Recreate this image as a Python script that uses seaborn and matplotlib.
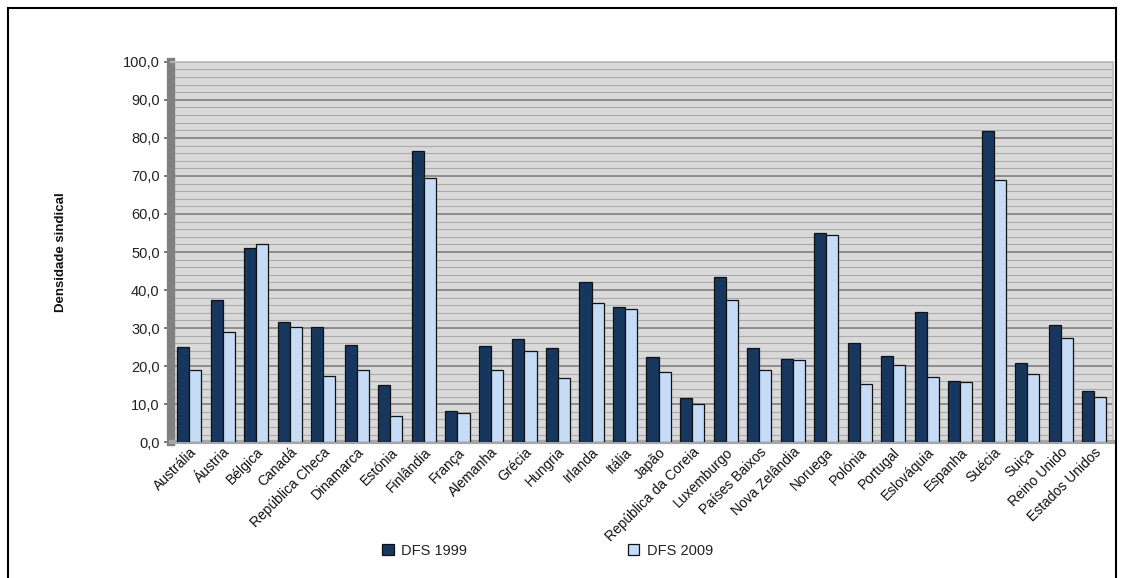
import matplotlib
matplotlib.use("Agg")
import matplotlib.pyplot as plt
import matplotlib.ticker as mticker
from matplotlib.patches import Rectangle
import seaborn as sns
import pandas as pd

countries = ["Austrália", "Áustria", "Bélgica", "Canadá", "República Checa", "Dinamarca",
             "Estónia", "Finlândia", "França", "Alemanha", "Grécia", "Hungria", "Irlanda",
             "Itália", "Japão", "República da Coreia", "Luxemburgo", "Países Baixos",
             "Nova Zelândia", "Noruega", "Polónia", "Portugal", "Eslováquia", "Espanha",
             "Suécia", "Suiça", "Reino Unido", "Estados Unidos"]
dfs_1999 = [25.0, 37.4, 51.0, 31.6, 30.2, 25.5, 15.0, 76.5, 8.3, 25.4, 27.0, 24.8, 42.2,
            35.5, 22.3, 11.7, 43.5, 24.8, 21.8, 55.1, 26.0, 22.6, 34.3, 16.1, 81.7, 20.9,
            30.7, 13.4]
dfs_2009 = [19.0, 28.9, 52.0, 30.3, 17.5, 18.9, 6.8, 69.5, 7.7, 19.0, 24.1, 16.9, 36.6,
            34.9, 18.5, 10.0, 37.4, 19.1, 21.6, 54.6, 15.2, 20.2, 17.2, 15.9, 69.0, 17.8,
            27.5, 11.8]
series = ["DFS 1999", "DFS 2009"]
yticks = [0, 10, 20, 30, 40, 50, 60, 70, 80, 90, 100]

df = pd.DataFrame({
    "País": countries * 2,
    "Valor": dfs_1999 + dfs_2009,
    "Série": [series[0]] * len(countries) + [series[1]] * len(countries),
})

sns.set_theme(style="white")
plt.rcParams["font.family"] = ["Liberation Sans", "DejaVu Sans"]

fig = plt.figure(figsize=(11.24, 5.78), dpi=100)
ax = fig.add_axes([0.152, 0.235, 0.838, 0.658])
ax.set_facecolor("#D9D9D9")

palette = {"DFS 1999": "#17375E", "DFS 2009": "#C6DBF5"}
sns.barplot(data=df, x="País", y="Valor", hue="Série", palette=palette, ax=ax,
            width=0.72, edgecolor="#111111", linewidth=0.9, saturation=1, zorder=3,
            legend=True)

ax.set_ylim(0, 100)
ax.set_xlim(-0.55, len(countries) - 0.45)
ax.set_yticks(yticks)
ax.yaxis.set_major_formatter(mticker.FuncFormatter(lambda v, p: f"{v:.1f}".replace(".", ",")))
ax.yaxis.set_minor_locator(mticker.MultipleLocator(2))
ax.grid(which="minor", axis="y", color="#ABABAB", linewidth=0.8, zorder=0)
ax.grid(which="major", axis="y", color="#7F7F7F", linewidth=1.2, zorder=1)
ax.set_axisbelow(True)
ax.tick_params(axis="y", which="major", length=5, color="#666666", labelsize=10.5,
               labelcolor="#222222", left=True, pad=3)
ax.tick_params(axis="y", which="minor", length=0)
ax.tick_params(axis="x", length=0, labelsize=10, labelcolor="#111111", pad=2)
plt.setp(ax.get_xticklabels(), rotation=45, ha="right", rotation_mode="anchor")

for s in ["top", "right"]:
    ax.spines[s].set_color("#BFBFBF")
ax.spines["left"].set_color("#808080")
ax.spines["left"].set_linewidth(6)
ax.spines["bottom"].set_color("#A6A6A6")
ax.spines["bottom"].set_linewidth(3)

ax.set_xlabel("")
ax.set_ylabel("Densidade sindical", fontsize=9.5, fontweight="bold", labelpad=40,
              color="#111111")

leg = ax.legend(loc="upper center", bbox_to_anchor=(0.40, -0.232), ncol=2, frameon=False,
                fontsize=10.5, columnspacing=11, handlelength=0.8, handleheight=0.8,
                handletextpad=0.5)
for t in leg.get_texts():
    t.set_color("#222222")

fig.patches.append(Rectangle((0.007, -0.01), 0.986, 0.997, transform=fig.transFigure,
                             fill=False, edgecolor="black", linewidth=1.5))

fig.savefig("out.png", dpi=100, facecolor="white")
